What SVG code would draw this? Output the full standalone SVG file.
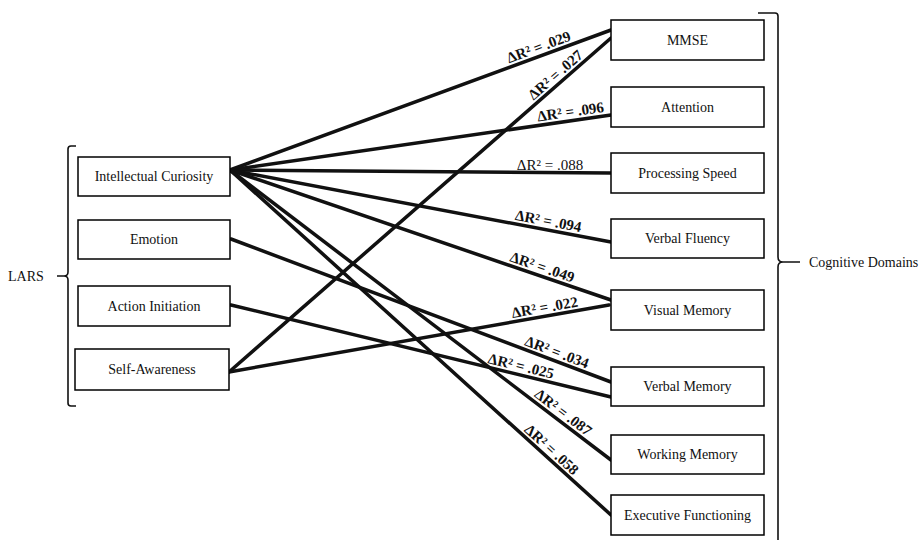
<svg xmlns="http://www.w3.org/2000/svg" width="921" height="540" viewBox="0 0 921 540">
<style>
.box{fill:#fff;stroke:#000;stroke-width:1.5}
.t{font-family:"Liberation Serif","Times New Roman",serif;font-size:14px;fill:#111;text-anchor:middle}
.lbl{font-family:"Liberation Serif","Times New Roman",serif;font-size:15px;font-weight:bold;fill:#111;text-anchor:middle}
.lblr{font-family:"Liberation Serif","Times New Roman",serif;font-size:15px;fill:#111;text-anchor:middle}
.side{font-family:"Liberation Serif","Times New Roman",serif;font-size:14px;fill:#111}
.c{stroke:#111;stroke-width:3.5;fill:none;stroke-linecap:round}
.br{stroke:#111;stroke-width:1.6;fill:none}
</style>
<rect width="921" height="540" fill="#fff"/>
<g id="connectors">
<line class="c" x1="230" y1="170" x2="611" y2="30"/>
<line class="c" x1="230" y1="170" x2="611" y2="115"/>
<line class="c" x1="230" y1="170" x2="611" y2="173"/>
<line class="c" x1="230" y1="170" x2="611" y2="242"/>
<line class="c" x1="230" y1="170" x2="611" y2="300"/>
<line class="c" x1="230" y1="170" x2="611" y2="460"/>
<line class="c" x1="230" y1="170" x2="611" y2="515"/>
<line class="c" x1="229" y1="372" x2="611" y2="38"/>
<line class="c" x1="229" y1="372" x2="609" y2="305"/>
<line class="c" x1="231" y1="239" x2="611" y2="382"/>
<line class="c" x1="231" y1="305" x2="611" y2="397"/>
</g>
<g id="labels">
<text class="lbl" transform="translate(541.8,55.4) rotate(-20.2)" y="-4">ΔR² = .029</text>
<text class="lbl" transform="translate(561.4,81.6) rotate(-41.2)" y="-4">ΔR² = .027</text>
<text class="lbl" transform="translate(571.8,120.6) rotate(-8.2)" y="-4">ΔR² = .096</text>
<text class="lblr" transform="translate(550,165)" y="5">ΔR² = .088</text>
<text class="lbl" transform="translate(546.6,229.8) rotate(10.7)" y="-4">ΔR² = .094</text>
<text class="lbl" transform="translate(539.4,275.6) rotate(18.8)" y="-4">ΔR² = .049</text>
<text class="lbl" transform="translate(546.2,316.1) rotate(-10)" y="-4">ΔR² = .022</text>
<text class="lbl" transform="translate(553.8,360.5) rotate(20.6)" y="-4">ΔR² = .034</text>
<text class="lbl" transform="translate(519,374.7) rotate(13.6)" y="-4">ΔR² = .025</text>
<text class="lbl" transform="translate(557.8,419.5) rotate(37.3)" y="-4">ΔR² = .087</text>
<text class="lbl" transform="translate(545.6,456.2) rotate(42.2)" y="-4">ΔR² = .058</text>
</g>
<g id="lars-bracket">
<path class="br" d="M76,146 L71,146 Q68,146 68,149 L68,272 Q68,276 64,276 L57,276 M64,276 Q68,276 68,280 L68,403 Q68,406 71,406 L76,406"/>
<text class="side" x="8" y="281">LARS</text>
</g>
<g id="cognitive-bracket">
<path class="br" d="M758,13 L775,13 Q778,13 778,16 L778,257 Q778,262 783,262 L800,262 M783,262 Q778,262 778,267 L778,540"/>
<text class="side" x="809" y="267">Cognitive Domains</text>
</g>
<g id="node-intellectual-curiosity"><rect class="box" x="78" y="157" width="152" height="39"/><text class="t" x="154" y="181">Intellectual Curiosity</text></g>
<g id="node-emotion"><rect class="box" x="78" y="220" width="152" height="39"/><text class="t" x="154" y="244">Emotion</text></g>
<g id="node-action-initiation"><rect class="box" x="78" y="286" width="152" height="40"/><text class="t" x="154" y="311">Action Initiation</text></g>
<g id="node-self-awareness"><rect class="box" x="75" y="349" width="154" height="41"/><text class="t" x="152" y="374">Self-Awareness</text></g>
<g id="node-mmse"><rect class="box" x="611" y="20" width="153" height="40"/><text class="t" x="687.5" y="45">MMSE</text></g>
<g id="node-attention"><rect class="box" x="611" y="87" width="153" height="40"/><text class="t" x="687.5" y="112">Attention</text></g>
<g id="node-processing-speed"><rect class="box" x="611" y="153" width="153" height="40"/><text class="t" x="687.5" y="178">Processing Speed</text></g>
<g id="node-verbal-fluency"><rect class="box" x="611" y="219" width="153" height="39"/><text class="t" x="687.5" y="243">Verbal Fluency</text></g>
<g id="node-visual-memory"><rect class="box" x="611" y="290" width="153" height="40"/><text class="t" x="687.5" y="315">Visual Memory</text></g>
<g id="node-verbal-memory"><rect class="box" x="611" y="367" width="153" height="39"/><text class="t" x="687.5" y="391">Verbal Memory</text></g>
<g id="node-working-memory"><rect class="box" x="611" y="435" width="153" height="39"/><text class="t" x="687.5" y="459">Working Memory</text></g>
<g id="node-executive-functioning"><rect class="box" x="611" y="495" width="153" height="40"/><text class="t" x="687.5" y="520">Executive Functioning</text></g>
</svg>
